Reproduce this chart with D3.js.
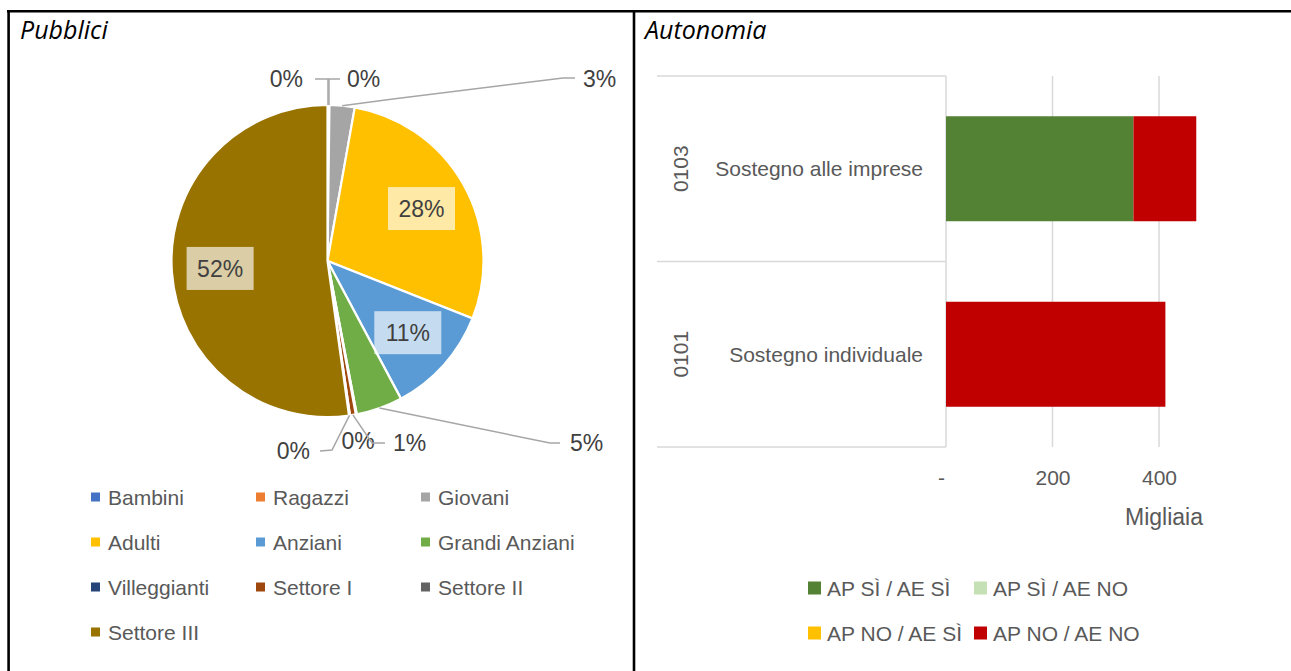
<!DOCTYPE html>
<html><head><meta charset="utf-8">
<script src="https://cdn.jsdelivr.net/npm/d3@7"></script>
<style>
html,body{margin:0;padding:0;background:#fff;}
svg{display:block;}
</style></head>
<body>
<svg id="c" width="1291" height="671"></svg>
<script>
// ---------- DATA ----------
const panelTitles = ["Pubblici", "Autonomia"];

const pieCategories = ["Bambini","Ragazzi","Giovani","Adulti","Anziani","Grandi Anziani","Villeggianti","Settore I","Settore II","Settore III"];
const pieValues = [0.1, 0.1, 2.6, 28.2, 11.2, 4.8, 0.1, 0.6, 0.1, 52.2];
const pieColors = ["#4472C4","#ED7D31","#A5A5A5","#FFC000","#5B9BD5","#70AD47","#264478","#9E480E","#636363","#997300"];

const barCodes = ["0103", "0101"];
const barNames = ["Sostegno alle imprese", "Sostegno individuale"];
const barSeries = ["AP SÌ / AE SÌ", "AP SÌ / AE NO", "AP NO / AE SÌ", "AP NO / AE NO"];
const apSiAeSi = [352, 0];
const apSiAeNo = [0, 0];
const apNoAeSi = [0, 0];
const apNoAeNo = [118, 412];
const barColors = ["#548235", "#C5E0B4", "#FFC000", "#C00000"];
const xTicks = [0, 200, 400];
const xUnitLabel = "Migliaia";

// ---------- LAYOUT ----------
const svg = d3.select("#c");
svg.append("rect").attr("width",1291).attr("height",671).attr("fill","#fff");

// table borders
svg.append("line").attr("x1",7).attr("x2",1291).attr("y1",11.3).attr("y2",11.3).attr("stroke","#000").attr("stroke-width",2.6);
svg.append("line").attr("x1",8.6).attr("x2",8.6).attr("y1",10).attr("y2",671).attr("stroke","#000").attr("stroke-width",2.6);
svg.append("line").attr("x1",634).attr("x2",634).attr("y1",10).attr("y2",671).attr("stroke","#000").attr("stroke-width",2.6);

const titleFont = "'Open Sans', 'Liberation Sans', sans-serif";
svg.append("text").attr("x",20).attr("y",39).text(panelTitles[0])
  .attr("font-family",titleFont).attr("font-style","italic").attr("font-size",25).attr("fill","#000");
svg.append("text").attr("x",645).attr("y",39).text(panelTitles[1])
  .attr("font-family",titleFont).attr("font-style","italic").attr("font-size",25).attr("fill","#000");

const font = "'Liberation Sans', Arial, sans-serif";

// ---------- PIE ----------
const cx = 327.5, cy = 261, R = 156;
const pieData = pieCategories.map((c,i)=>({cat:c, value:pieValues[i], color:pieColors[i]}));
const total = d3.sum(pieValues);
const pct = d3.format(".0%");
const arcs = d3.pie().sort(null).value(d=>d.value)(pieData);
const arcGen = d3.arc().innerRadius(0).outerRadius(R);
const gPie = svg.append("g").attr("transform",`translate(${cx},${cy})`);
gPie.selectAll("path.slice").data(arcs).join("path").attr("class","slice")
  .attr("d",arcGen).attr("fill",d=>d.data.color).attr("stroke","#fff").attr("stroke-width",2.2);

// label placement (layout, offsets from pie centre)
const labelLayout = {
  "Bambini":        {pos:[-24.5,-182], anchor:"end",   leader:[["s",-182],[-12.5,-182]]},
  "Ragazzi":        {pos:[19.5,-182],  anchor:"start", leader:[["s",-182],[12.5,-182]]},
  "Giovani":        {pos:[255.5,-182], anchor:"start", leader:[[65.5,-162],[235.5,-183],[247.5,-183]]},
  "Adulti":         {inside:true},
  "Anziani":        {inside:true},
  "Grandi Anziani": {pos:[242.5,182],  anchor:"start", leader:[[222.5,182],[232.5,182]]},
  "Villeggianti":   {pos:[30.5,180],   anchor:"middle", leader:null},
  "Settore I":      {pos:[65.5,182],   anchor:"start", leader:[[44.5,182],[57.5,182]]},
  "Settore II":     {pos:[-17.5,190],  anchor:"end",   leader:[[4.5,189],[-7.5,190]]},
  "Settore III":    {inside:true}
};
const insideArc = d3.arc().innerRadius(R*0.69).outerRadius(R*0.69);
const edgeArc = d3.arc().innerRadius(R).outerRadius(R);

arcs.forEach(a=>{
  const L = labelLayout[a.data.cat];
  const txt = pct(a.data.value/total);
  if (L.inside) {
    const [x,y] = insideArc.centroid(a);
    gPie.append("rect").attr("x",x-33.5).attr("y",y-21.5).attr("width",67).attr("height",43)
      .attr("fill","#fff").attr("fill-opacity",0.65);
    gPie.append("text").attr("x",x).attr("y",y).attr("dy","0.36em").attr("text-anchor","middle")
      .attr("font-family",font).attr("font-size",23).attr("fill","#404040").text(txt);
  } else {
    if (L.leader) {
      const s = edgeArc.centroid(a);
      const pts = [s].concat(L.leader.map(p=>[p[0]==="s"?s[0]:p[0], p[1]]));
      gPie.append("path").attr("d",d3.line()(pts)).attr("fill","none")
        .attr("stroke","#A6A6A6").attr("stroke-width",1.5);
    }
    gPie.append("text").attr("x",L.pos[0]).attr("y",L.pos[1]).attr("dy","0.36em")
      .attr("text-anchor",L.anchor).attr("font-family",font).attr("font-size",23)
      .attr("fill","#404040").text(txt);
  }
});

// pie legend
const legCols = [91, 256, 421], legRows = [497, 542, 587, 632];
pieData.forEach((d,i)=>{
  const x = legCols[i%3], y = legRows[Math.floor(i/3)];
  svg.append("rect").attr("x",x).attr("y",y-4.5).attr("width",9).attr("height",9).attr("fill",d.color);
  svg.append("text").attr("x",x+17).attr("y",y).attr("dy","0.36em").attr("font-family",font)
    .attr("font-size",21).attr("fill","#595959").text(d.cat);
});

// ---------- BAR ----------
const x = d3.scaleLinear().domain([0,500]).range([946, 946 + 500*(1159-946)/400]);
const y = d3.scaleBand().domain(barCodes).range([76,447]).paddingInner(0.434).paddingOuter(0.217);
const yOuter = d3.scaleBand().domain(barCodes).range([76,447]);

const gridCol = "#D9D9D9";
// gridlines
xTicks.filter(t=>t>0).forEach(t=>{
  svg.append("line").attr("x1",x(t)).attr("x2",x(t)).attr("y1",76).attr("y2",447)
    .attr("stroke",gridCol).attr("stroke-width",1.5);
});
// category separators
[76, yOuter(barCodes[1]), 447].forEach(yy=>{
  svg.append("line").attr("x1",657).attr("x2",x(0)).attr("y1",yy).attr("y2",yy)
    .attr("stroke",gridCol).attr("stroke-width",1.5);
});
svg.append("line").attr("x1",x(0)).attr("x2",x(0)).attr("y1",76).attr("y2",447)
  .attr("stroke",gridCol).attr("stroke-width",1.5);

const rows = barCodes.map((c,i)=>({code:c, name:barNames[i],
  s0:apSiAeSi[i], s1:apSiAeNo[i], s2:apNoAeSi[i], s3:apNoAeNo[i]}));
const stack = d3.stack().keys(["s0","s1","s2","s3"])(rows);
stack.forEach((layer,k)=>{
  svg.append("g").selectAll("rect").data(layer).join("rect")
    .attr("x",d=>x(d[0])).attr("width",d=>x(d[1])-x(d[0]))
    .attr("y",d=>y(d.data.code)).attr("height",y.bandwidth())
    .attr("fill",barColors[k]);
});

// category labels
rows.forEach(r=>{
  const yc = yOuter(r.code) + yOuter.bandwidth()/2;
  svg.append("text").attr("x",923).attr("y",yc).attr("dy","0.36em").attr("text-anchor","end")
    .attr("font-family",font).attr("font-size",21).attr("fill","#595959").text(r.name);
  svg.append("text").attr("transform",`translate(680,${yc}) rotate(-90)`).attr("dy","0.36em")
    .attr("text-anchor","middle").attr("font-family",font).attr("font-size",21).attr("fill","#595959").text(r.code);
});

// x axis ticks
const xAxis = d3.axisBottom(x).tickValues(xTicks).tickSize(0).tickPadding(0)
  .tickFormat(d=>d===0?"-":d3.format("d")(d));
const gx = svg.append("g").attr("transform","translate(0,477)").call(xAxis);
gx.select(".domain").remove();
gx.selectAll("text").attr("font-family",font).attr("font-size",21).attr("fill","#595959")
  .attr("y",0).attr("dy","0.36em");
gx.selectAll(".tick").filter(d=>d===0).select("text").attr("x",-5);
svg.append("text").attr("x",1164).attr("y",517).attr("dy","0.36em").attr("text-anchor","middle")
  .attr("font-family",font).attr("font-size",23).attr("fill","#595959").text(xUnitLabel);

// bar legend
const bLegCols = [808, 974], bLegRows = [588, 633];
barSeries.forEach((s,i)=>{
  const lx = bLegCols[i%2], ly = bLegRows[Math.floor(i/2)];
  svg.append("rect").attr("x",lx).attr("y",ly-6.5).attr("width",13).attr("height",13).attr("fill",barColors[i]);
  svg.append("text").attr("x",lx+19).attr("y",ly).attr("dy","0.36em").attr("font-family",font)
    .attr("font-size",21).attr("fill","#595959").text(s);
});
</script>
</body></html>
